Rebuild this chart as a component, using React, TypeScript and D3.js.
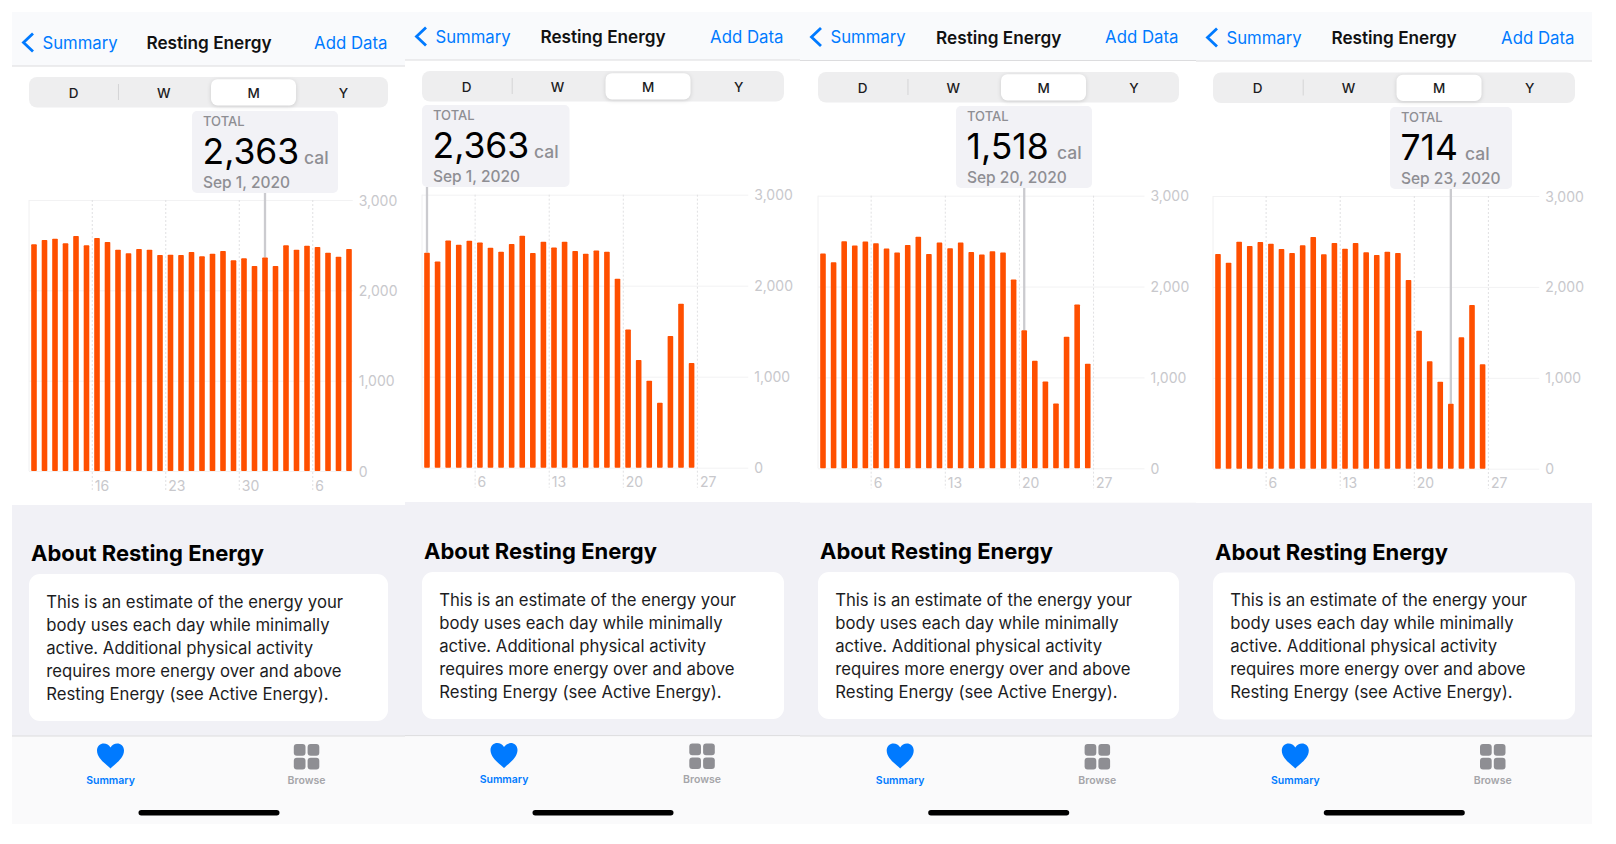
import * as d3 from "d3";
import { useEffect, useRef } from "react";

// calories per day
const augSepValues = [
  2509, 2557, 2572, 2520, 2601, 2498, 2579, 2535, 2450, 2410, 2458, 2450, 2391, 2395, 2391, 2424,
  2376, 2406, 2435, 2332, 2354, 2269, 2363, 2269, 2498, 2450, 2494, 2480, 2417, 2373, 2458,
];
const septemberValues = [
  2363, 2267, 2498, 2451, 2495, 2476, 2418, 2374, 2458, 2549, 2359, 2484, 2421, 2484, 2381, 2352,
  2388, 2374, 2077, 1518, 1183, 956, 714, 1447, 1802, 1150,
];
const yTicks = [0, 1000, 2000, 3000];
const augSepTickIndex = [6, 13, 20, 27];
const augSepTickLabels = ["16", "23", "30", "6"];
const septemberTickIndex = [5, 12, 19, 26];
const septemberTickLabels = ["6", "13", "20", "27"];
const segments = ["D", "W", "M", "Y"];
const aboutLines = [
  "This is an estimate of the energy your",
  "body uses each day while minimally",
  "active. Additional physical activity",
  "requires more energy over and above",
  "Resting Energy (see Active Energy).",
];

const FONT = "Inter, 'Noto Sans', sans-serif";
const BLUE = "#007aff";
const BAR = "#ff4f00";
const LABEL = "#c8c8cc";
const GREY_TEXT = "#8e8e93";

interface PanelSpec {
  values: number[];
  tickIndex: number[];
  tickLabels: string[];
  selected: number;
  total: string;
  date: string;
  x0: number;
  x1: number;
  navBottom: number;
  titleX: number;
  segX: number;
  segY: number;
  segW: number;
  tipX: number;
  tipW: number;
  tipY: number;
  calX: number;
  plotX0: number;
  plotX1: number;
  yTop: number;
  yBase: number;
  whiteEnd: number;
  aboutY: number;
  tabTop: number;
  heartX: number;
  gridX: number;
  homeX: number;
}

const panels: PanelSpec[] = [
  {
    values: augSepValues, tickIndex: augSepTickIndex, tickLabels: augSepTickLabels, selected: 22,
    total: "2,363", date: "Sep 1, 2020",
    x0: 12, x1: 405, navBottom: 66, titleX: 209, segX: 29, segY: 77, segW: 359,
    tipX: 192, tipW: 146, tipY: 111, calX: 304,
    plotX0: 28.75, plotX1: 354.25, yTop: 200, yBase: 471, whiteEnd: 505,
    aboutY: 574, tabTop: 736, heartX: 110.5, gridX: 306.5, homeX: 209,
  },
  {
    values: septemberValues, tickIndex: septemberTickIndex, tickLabels: septemberTickLabels, selected: 0,
    total: "2,363", date: "Sep 1, 2020",
    x0: 405, x1: 800, navBottom: 60, titleX: 603, segX: 422, segY: 71, segW: 362,
    tipX: 422, tipW: 147.5, tipY: 105, calX: 534,
    plotX0: 421.7, plotX1: 749.8, yTop: 194.7, yBase: 467.7, whiteEnd: 502,
    aboutY: 572, tabTop: 735.6, heartX: 504, gridX: 702, homeX: 603,
  },
  {
    values: septemberValues, tickIndex: septemberTickIndex, tickLabels: septemberTickLabels, selected: 19,
    total: "1,518", date: "Sep 20, 2020",
    x0: 800, x1: 1196, navBottom: 60.5, titleX: 998.7, segX: 818, segY: 72, segW: 361,
    tipX: 956, tipW: 136, tipY: 106, calX: 1057,
    plotX0: 817.7, plotX1: 1146, yTop: 195.7, yBase: 468.3, whiteEnd: 502.7,
    aboutY: 572, tabTop: 736, heartX: 900.2, gridX: 1097.3, homeX: 998.7,
  },
  {
    values: septemberValues, tickIndex: septemberTickIndex, tickLabels: septemberTickLabels, selected: 22,
    total: "714", date: "Sep 23, 2020",
    x0: 1196, x1: 1592, navBottom: 61, titleX: 1394, segX: 1213, segY: 72.5, segW: 362,
    tipX: 1390, tipW: 122, tipY: 107, calX: 1465,
    plotX0: 1212.7, plotX1: 1540.8, yTop: 196, yBase: 468.7, whiteEnd: 503,
    aboutY: 572.5, tabTop: 736, heartX: 1295.3, gridX: 1492.7, homeX: 1394.3,
  },
];

const Chart = ({ p }: { p: PanelSpec }) => {
  const ref = useRef<SVGGElement | null>(null);

  useEffect(() => {
    if (!ref.current) return;
    const g = d3.select(ref.current);
    g.selectAll("*").remove();

    const x = d3.scaleLinear().domain([0, 31]).range([p.plotX0, p.plotX1]);
    const y = d3.scaleLinear().domain([0, 3000]).range([p.yBase, p.yTop]);
    const barWidth = 5.6;
    const gridRight = p.plotX1 - 1.5;

    // horizontal grid + value labels
    const yAxis = g
      .append("g")
      .attr("transform", `translate(${gridRight},0)`)
      .call(
        d3
          .axisRight(y)
          .tickValues(yTicks)
          .tickSize(-(gridRight - p.plotX0 - 0.3))
          .tickFormat((d) => d3.format(",")(d as number))
      );
    yAxis.select(".domain").remove();
    yAxis.selectAll("line").attr("stroke", "#f2f2f3").attr("stroke-width", 1);
    yAxis
      .selectAll("text")
      .attr("x", 6)
      .attr("dy", "0.36em")
      .attr("fill", LABEL)
      .attr("font-family", FONT)
      .attr("font-size", 14);

    g.append("line")
      .attr("x1", p.plotX0 + 0.3)
      .attr("x2", p.plotX0 + 0.3)
      .attr("y1", p.yTop)
      .attr("y2", p.yBase)
      .attr("stroke", "#f0f0f1");

    // dashed day ticks + day labels
    const xAxis = g
      .append("g")
      .attr("transform", `translate(0,${p.yTop})`)
      .call(
        d3
          .axisBottom(x)
          .tickValues(p.tickIndex)
          .tickSize(p.yBase - p.yTop + 20)
          .tickFormat((_, i) => p.tickLabels[i])
      );
    xAxis.select(".domain").remove();
    xAxis
      .selectAll("line")
      .attr("stroke", "#e0e0e2")
      .attr("stroke-dasharray", "2,2");
    xAxis
      .selectAll("text")
      .attr("x", 2.5)
      .attr("y", p.yBase - p.yTop + 14)
      .attr("dy", 0)
      .attr("dominant-baseline", "central")
      .attr("text-anchor", "start")
      .attr("fill", LABEL)
      .attr("font-family", FONT)
      .attr("font-size", 14);

    // rule from tooltip to selected bar
    const ruleX = x(p.selected + 0.5);
    g.append("line")
      .attr("x1", ruleX)
      .attr("x2", ruleX)
      .attr("y1", p.tipY + 82)
      .attr("y2", y(p.values[p.selected]))
      .attr("stroke", "#cbcbcf")
      .attr("stroke-width", 2.3);

    g.selectAll("rect.bar")
      .data(p.values)
      .join("rect")
      .attr("class", "bar")
      .attr("x", (_, i) => x(i + 0.5) - barWidth / 2)
      .attr("width", barWidth)
      .attr("y", (d) => y(d))
      .attr("height", (d) => y(0) - y(d))
      .attr("rx", 0.8)
      .attr("fill", BAR);
  }, [p]);

  return <g ref={ref} />;
};

const Panel = ({ p }: { p: PanelSpec }) => {
  const w = p.x1 - p.x0;
  const segStep = p.segW / 4;
  const navY = p.navBottom - 23.5;
  const leftEdge = p.x0 + 10;
  return (
    <g fontFamily={FONT}>
      <rect x={p.x0} y={12} width={w} height={p.navBottom - 12} fill="#f9fafc" />
      <line x1={p.x0} x2={p.x1} y1={p.navBottom} y2={p.navBottom} stroke="#dcdcde" />
      <rect x={p.x0} y={p.whiteEnd} width={w} height={p.tabTop - p.whiteEnd} fill="#f1f1f6" />
      <rect x={p.x0} y={p.tabTop} width={w} height={824 - p.tabTop} fill="#fafafb" />
      <line x1={p.x0} x2={p.x1} y1={p.tabTop} y2={p.tabTop} stroke="#dcdcde" />

      {/* nav bar */}
      <path
        d={`M${leftEdge + 11},${navY - 9} L${leftEdge + 1.5},${navY} L${leftEdge + 11},${navY + 9}`}
        fill="none"
        stroke={BLUE}
        strokeWidth={2.8}
      />
      <text x={leftEdge + 20.5} y={navY} dominantBaseline="central" fontSize={16.7} fill={BLUE}>
        Summary
      </text>
      <text x={p.titleX} y={navY} dominantBaseline="central" textAnchor="middle" fontSize={17.2} fontWeight={600} fill="#111">
        Resting Energy
      </text>
      <text x={p.segX + p.segW - 0.5} y={navY} dominantBaseline="central" textAnchor="end" fontSize={16.8} fill={BLUE}>
        Add Data
      </text>

      {/* segmented control */}
      <rect x={p.segX} y={p.segY} width={p.segW} height={30.5} rx={8} fill="#eeeeef" />
      <rect
        x={p.segX + p.segW * 0.507}
        y={p.segY + 2.2}
        width={85}
        height={26.2}
        rx={6.5}
        fill="#fff"
        style={{ filter: "drop-shadow(0 1px 2px rgba(0,0,0,0.14))" }}
      />
      <line x1={p.segX + segStep - 0.3} x2={p.segX + segStep - 0.3} y1={p.segY + 7} y2={p.segY + 23} stroke="#d4d4d6" />
      {segments.map((s, i) => (
        <text
          key={s}
          x={p.segX + 44.5 + i * segStep + (i > 0 ? 0.6 : 0)}
          y={p.segY + 15.5}
          dominantBaseline="central"
          textAnchor="middle"
          fontSize={13.5}
          fontWeight={500}
          fill="#1c1c1e"
        >
          {s}
        </text>
      ))}

      {/* tooltip */}
      <rect x={p.tipX} y={p.tipY} width={p.tipW} height={82} rx={5} fill="#f2f2f6" />
      <text x={p.tipX + 11} y={p.tipY + 10} dominantBaseline="central" fontSize={13} fontWeight={500} fill={GREY_TEXT}>
        TOTAL
      </text>
      <text x={p.tipX + 10.5} y={p.tipY + 53} fontSize={35.5} fontWeight={400} fill="#000">
        {p.total}
      </text>
      <text x={p.calX} y={p.tipY + 52.5} fontSize={17.5} fontWeight={500} fill={GREY_TEXT}>
        cal
      </text>
      <text x={p.tipX + 11} y={p.tipY + 77} fontSize={15.5} fontWeight={500} fill={GREY_TEXT}>
        {p.date}
      </text>

      <Chart p={p} />

      {/* about card */}
      <text x={p.segX + 2} y={p.aboutY - 13} fontSize={22} fontWeight={700} fill="#000">
        About Resting Energy
      </text>
      <rect x={p.segX} y={p.aboutY} width={p.segW} height={147} rx={11} fill="#fff" />
      {aboutLines.map((line, i) => (
        <text
          key={line}
          x={p.segX + 17.2}
          y={p.aboutY + 27.8 + i * 23}
          dominantBaseline="central"
          fontSize={16.7}
          fill="#1c1c1e"
        >
          {line}
        </text>
      ))}

      {/* tab bar */}
      <path
        transform={`translate(${p.heartX},${p.tabTop + 20})`}
        d="M0 12.5 C-4 8.5 -13.5 2.5 -13.5 -5.5 C-13.5 -10 -10 -12.5 -6.8 -12.5 C-4 -12.5 -1.5 -11 0 -8.5 C1.5 -11 4 -12.5 6.8 -12.5 C10 -12.5 13.5 -10 13.5 -5.5 C13.5 2.5 4 8.5 0 12.5 Z"
        fill={BLUE}
      />
      <text x={p.heartX} y={p.tabTop + 44} dominantBaseline="central" textAnchor="middle" fontSize={10.5} fontWeight={600} fill={BLUE}>
        Summary
      </text>
      {[0, 1].map((col) =>
        [0, 1].map((row) => (
          <rect
            key={`${col}-${row}`}
            x={p.gridX - 12.7 + col * 13.8}
            y={p.tabTop + 8 + row * 13.8}
            width={11.7}
            height={11.7}
            rx={3}
            fill="#8e8e93"
          />
        ))
      )}
      <text x={p.gridX} y={p.tabTop + 44} dominantBaseline="central" textAnchor="middle" fontSize={10.5} fontWeight={600} fill="#a5a5a9">
        Browse
      </text>
      <rect x={p.homeX - 70.5} y={810} width={141} height={5.5} rx={2.75} fill="#000" />
    </g>
  );
};

export default function App() {
  return (
    <svg width={1616} height={844} style={{ position: "absolute", left: 0, top: 0, background: "#fff" }}>
      {panels.map((p) => (
        <Panel key={p.x0} p={p} />
      ))}
    </svg>
  );
}
